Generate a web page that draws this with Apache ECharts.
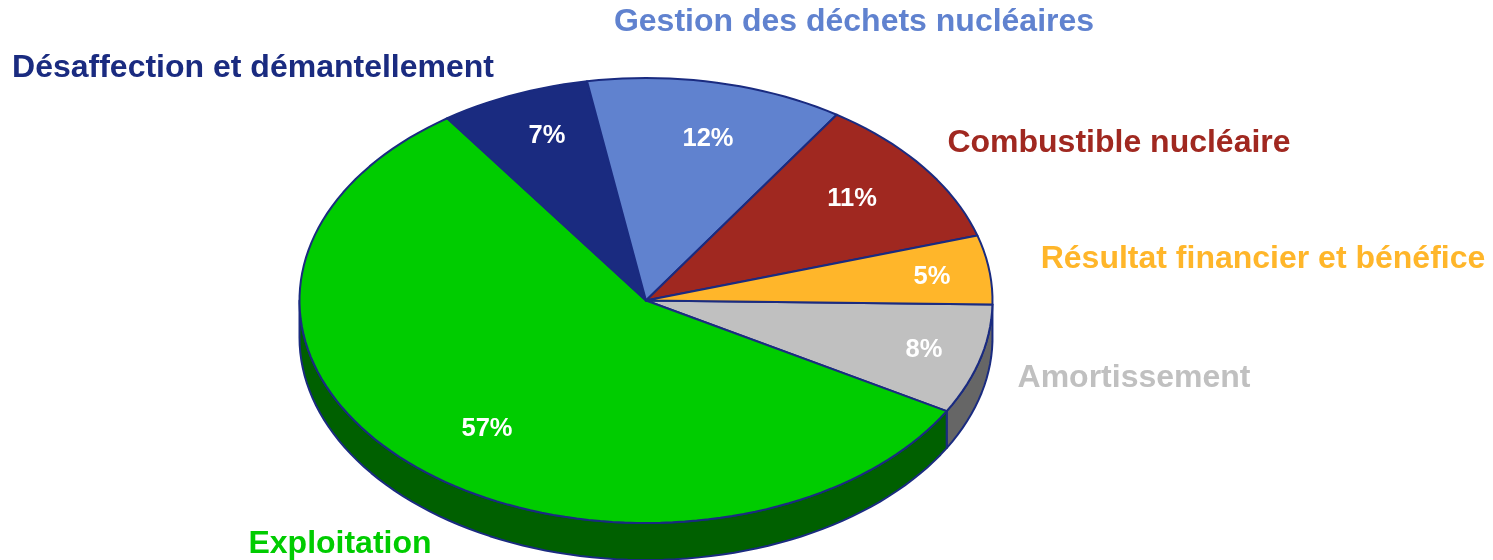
<!DOCTYPE html>
<html>
<head>
<meta charset="utf-8">
<style>
html,body{margin:0;padding:0;background:#fff;}
#main{width:1493px;height:560px;}
</style>
<script src="https://cdn.jsdelivr.net/npm/echarts@6/dist/echarts.min.js"></script>
</head>
<body>
<div id="main"></div>
<script>
// slices go clockwise, starting just below the 3 o'clock position
var categories = ['Amortissement', 'Exploitation', 'Désaffection et démantellement', 'Gestion des déchets nucléaires', 'Combustible nucléaire', 'Résultat financier et bénéfice'];
var values = [8, 57, 7, 12, 11, 5];

var topColors = ['#c0c0c0', '#00cc00', '#1a2b80', '#6082cf', '#a02820', '#ffb62a'];
var sideColors = ['#666666', '#006000', '#0f1a4d', '#3a4e7c', '#601813', '#99701a'];
var edgeColor = '#1a2b80';

// pixel anchors of the texts (center of each string)
var pctPos = [[924, 350], [487, 429], [547, 136], [708, 139], [852, 199], [932, 277]];
var namePos = [[1134, 378], [340, 544], [253, 68], [854, 22], [1119, 143], [1263, 259]];

var cx = 646, cy = 300.5, rx = 346.5, ry = 222.5, depth = 37;
var startDeg = 1;
var fontFamily = '"Liberation Sans", Arial, sans-serif';

var total = values.reduce(function (a, b) { return a + b; }, 0);

function sliceRange(i) {
    var before = 0;
    for (var k = 0; k < i; k++) before += values[k];
    return [startDeg + before / total * 360, startDeg + (before + values[i]) / total * 360];
}

function rimPoint(deg, dy) {
    var a = deg * Math.PI / 180;
    return [cx + rx * Math.cos(a), cy + ry * Math.sin(a) + dy];
}

function arcPoints(from, to, dy) {
    var pts = [];
    var n = Math.max(1, Math.ceil(Math.abs(to - from) / 2));
    for (var k = 0; k <= n; k++) pts.push(rimPoint(from + (to - from) * k / n, dy));
    return pts;
}

function renderSide(params, api) {
    var i = params.dataIndex;
    var r = sliceRange(i);
    var to = Math.min(r[1], 180);
    if (r[0] >= 180) return { type: 'group', children: [] };
    var pts = arcPoints(r[0], to, 0).concat(arcPoints(to, r[0], depth));
    return {
        type: 'polygon',
        shape: { points: pts },
        style: { fill: sideColors[i], stroke: edgeColor, lineWidth: 2, lineJoin: 'round' }
    };
}

function renderTop(params, api) {
    var i = params.dataIndex;
    var r = sliceRange(i);
    var pts = [[cx, cy]].concat(arcPoints(r[0], r[1], 0));
    return {
        type: 'group',
        children: [
            {
                type: 'polygon',
                shape: { points: pts },
                style: { fill: topColors[i], stroke: edgeColor, lineWidth: 2, lineJoin: 'round' }
            },
            {
                type: 'text',
                z2: 10,
                style: {
                    x: pctPos[i][0], y: pctPos[i][1],
                    text: api.value(0) + '%',
                    align: 'center', verticalAlign: 'middle',
                    fill: '#fff', font: 'bold 25.5px ' + fontFamily
                }
            },
            {
                type: 'text',
                z2: 10,
                style: {
                    x: namePos[i][0], y: namePos[i][1],
                    text: categories[i],
                    align: 'center', verticalAlign: 'middle',
                    fill: topColors[i], font: 'bold 32px ' + fontFamily
                }
            }
        ]
    };
}

var chart = echarts.init(document.getElementById('main'));
chart.setOption({
    animation: false,
    backgroundColor: '#fff',
    series: [
        { type: 'custom', coordinateSystem: 'none', silent: true, z: 1, renderItem: renderSide, data: values },
        { type: 'custom', coordinateSystem: 'none', silent: true, z: 2, renderItem: renderTop, data: values }
    ]
});
</script>
</body>
</html>
